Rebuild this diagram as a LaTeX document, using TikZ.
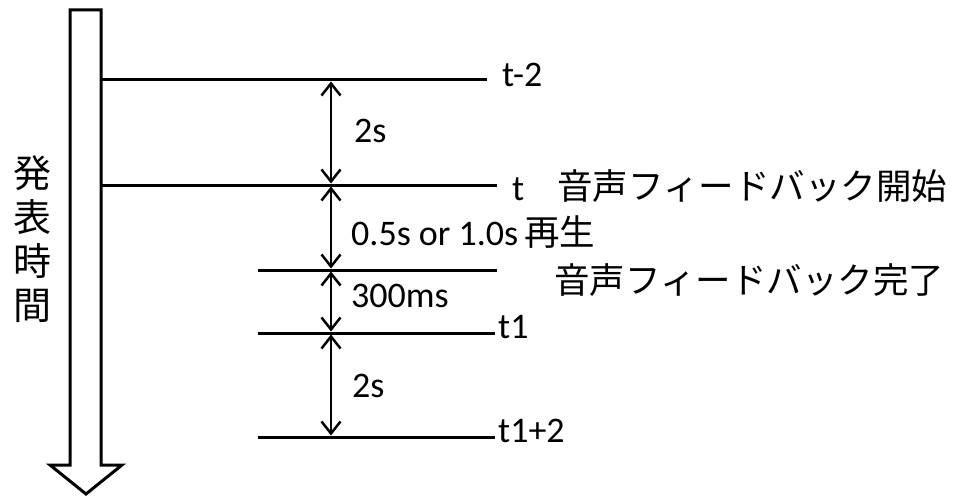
\documentclass[tikz,border=0pt]{standalone}
\usepackage{fontspec}
\setmainfont{Carlito}
\newfontfamily\jp{Noto Sans CJK JP}
\usetikzlibrary{arrows.meta}
\begin{document}
\begin{tikzpicture}[x=1pt,y=-1pt,
  tl/.style={line width=3pt},
  span/.style={line width=2.5pt,{Straight Barb[length=12pt,width=19pt,line width=2.5pt]}-{Straight Barb[length=12pt,width=19pt,line width=2.5pt]},shorten <=1.5pt,shorten >=1.5pt},
  lab/.style={anchor=base west,inner sep=0pt,font=\fontsize{36}{42}\selectfont,text=black},
  jlab/.style={anchor=base west,inner sep=0pt,font=\jp\fontsize{35.5}{40}\selectfont}]
\useasboundingbox (0,0) rectangle (957,497);
% time arrow
\draw[line width=3pt,line join=miter] (70,10) -- (101,10) -- (101,465) -- (122,465) -- (86,494) -- (50,465) -- (70,465) -- cycle;
\node[anchor=north,inner sep=0pt,align=center,font=\jp\fontsize{38}{44}\selectfont] (ax) at (32,155) {発\\表\\時\\間};
% coordinates
\coordinate (a0) at (101,80);  \coordinate (a1) at (487,80);
\coordinate (b0) at (101,185); \coordinate (b1) at (497,185);
\coordinate (c0) at (258,270); \coordinate (c1) at (497,270);
\coordinate (d0) at (258,333); \coordinate (d1) at (495,333);
\coordinate (e0) at (258,437); \coordinate (e1) at (495,437);
\coordinate (p1) at (331,80);
\coordinate (p2) at (331,185);
\coordinate (p3) at (331,270);
\coordinate (p4) at (331,333);
\coordinate (p5) at (331,437);
\draw[tl] (a0) -- (a1);
\draw[tl] (b0) -- (b1);
\draw[tl] (c0) -- (c1);
\draw[tl] (d0) -- (d1);
\draw[tl] (e0) -- (e1);
\draw[span] (p1) -- (p2);
\draw[span] (p2) -- (p3);
\draw[span] (p3) -- (p4);
\draw[span] (p4) -- (p5);
% labels
\node[lab] (lt2) at (502,87) {t-2};
\node[lab] (l2s) at (354,143) {2s};
\node[lab] (lt) at (512,200) {t};
\node[jlab] (js) at (557,199) {音声フィードバック開始};
\node[lab] (l05) at (351,245) {0.5s or 1.0s};
\node[jlab] (jr) at (524,245) {再生};
\node[jlab] (je) at (554,293) {音声フィードバック完了};
\node[lab] (l300) at (351,307) {300ms};
\node[lab] (lt1) at (498,338) {t1};
\node[lab] (l2s2) at (352,397) {2s};
\node[lab] (lt12) at (498,442) {t1+2};
\end{tikzpicture}
\end{document}
